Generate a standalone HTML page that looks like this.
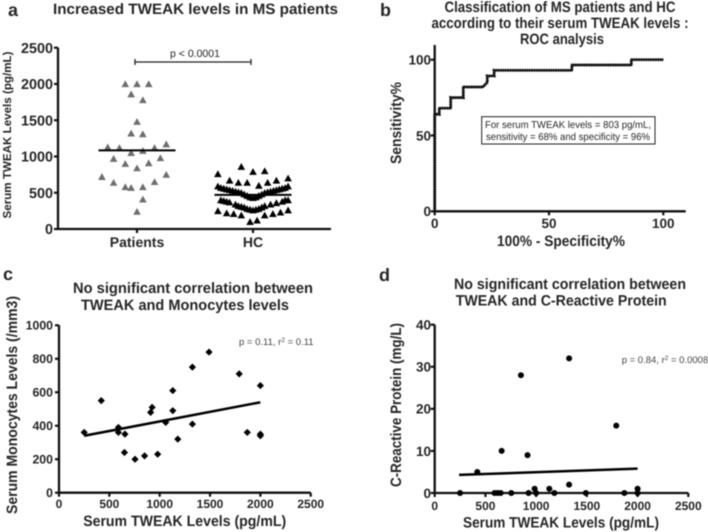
<!DOCTYPE html>
<html lang="en">
<head>
<meta charset="utf-8">
<title>TWEAK levels figure</title>
<style>
html,body{margin:0;padding:0;background:#fff;width:708px;height:532px;overflow:hidden}
svg{display:block;filter:blur(0.45px)}
text{font-family:"Liberation Sans",sans-serif;fill:#262626;text-rendering:geometricPrecision}
.b{font-weight:bold}
.t{font-weight:bold;font-size:15px}
.p{font-size:9.5px;fill:#444}
</style>
</head>
<body>
<svg id="fig" xmlns="http://www.w3.org/2000/svg" width="708" height="532" viewBox="0 0 708 532">
  <text class="b" x="8" y="16" font-size="18" fill="#000">a</text>
  <text class="t" x="53" y="14" textLength="285" lengthAdjust="spacingAndGlyphs">Increased TWEAK levels in MS patients</text>
  <text class="b" transform="translate(11,135) rotate(-90)" text-anchor="middle" font-size="11.5" textLength="167" lengthAdjust="spacingAndGlyphs">Serum TWEAK Levels (pg/mL)</text>
  <text x="195" y="57" text-anchor="middle" font-size="10.5" fill="#444">p &lt; 0.0001</text>
  <path d="M135 62H251M135 59V65M251 59V65" fill="none" stroke="#222" stroke-width="1.3"/>

  <text class="b" x="380" y="16" font-size="18">b</text>
  <text class="t" x="560" y="12" text-anchor="middle" textLength="231" lengthAdjust="spacingAndGlyphs">Classification of MS patients and HC</text>
  <text class="t" x="560" y="28" text-anchor="middle" textLength="257" lengthAdjust="spacingAndGlyphs">according to their serum TWEAK levels :</text>
  <text class="t" x="562" y="44" text-anchor="middle" textLength="84" lengthAdjust="spacingAndGlyphs">ROC analysis</text>
  <text class="t" x="561" y="246" text-anchor="middle" textLength="128" lengthAdjust="spacingAndGlyphs">100% - Specificity%</text>
  <text class="t" transform="translate(401,123) rotate(-90)" text-anchor="middle" textLength="82" lengthAdjust="spacingAndGlyphs">Sensitivity%</text>
  <rect x="481.7" y="116.7" width="173.3" height="27.3" fill="#fff" stroke="#222" stroke-width="1"/>
  <text x="485" y="128" font-size="10" textLength="166" lengthAdjust="spacingAndGlyphs" fill="#333">For serum TWEAK levels = 803 pg/mL,</text>
  <text x="486" y="140" font-size="10" textLength="164" lengthAdjust="spacingAndGlyphs" fill="#333">sensitivity = 68% and specificity = 96%</text>

  <text class="b" x="3" y="280" font-size="18">c</text>
  <text class="t" x="73" y="293" textLength="240" lengthAdjust="spacingAndGlyphs">No significant correlation between</text>
  <text class="t" x="81" y="310" textLength="208" lengthAdjust="spacingAndGlyphs">TWEAK and Monocytes levels</text>
  <text class="t" x="184.7" y="526" text-anchor="middle" textLength="203" lengthAdjust="spacingAndGlyphs">Serum TWEAK Levels (pg/mL)</text>
  <text class="t" transform="translate(17,405) rotate(-90)" text-anchor="middle" textLength="218" lengthAdjust="spacingAndGlyphs">Serum Monocytes Levels (/mm3)</text>
  <text class="p" x="239" y="345">p = 0.11, r<tspan dy="-3" font-size="6.5">2</tspan><tspan dy="3"> = 0.11</tspan></text>

  <text class="b" x="379" y="281" font-size="18">d</text>
  <text class="t" x="454" y="289" textLength="232" lengthAdjust="spacingAndGlyphs">No significant correlation between</text>
  <text class="t" x="455.7" y="305.5" textLength="211" lengthAdjust="spacingAndGlyphs">TWEAK and C-Reactive Protein</text>
  <text class="t" x="561" y="527.5" text-anchor="middle" textLength="196" lengthAdjust="spacingAndGlyphs">Serum TWEAK Levels (pg/mL)</text>
  <text class="t" transform="translate(401,405) rotate(-90)" text-anchor="middle" textLength="164" lengthAdjust="spacingAndGlyphs">C-Reactive Protein (mg/L)</text>
  <text class="p" x="621.7" y="363">p = 0.84, r<tspan dy="-3" font-size="6.5">2</tspan><tspan dy="3"> = 0.0008</tspan></text>
</svg>
<script>
// Panel a data
const swarmCategories = ['Patients', 'HC'];
const swarmTicks = [0, 500, 1000, 1500, 2000, 2500];
const patientSlots = [-2,0,2,-1,1,0,-1,1,-5,-3,3,5,-1,1,-4,4,-2,2,0,-6,5,-4,3,-2,-1,1,1,0];
const patientValues = [2000,2000,2000,1860,1780,1480,1320,1310,1130,1120,1120,1170,1050,1080,970,980,900,910,840,720,750,640,650,580,570,580,410,240];
const hcSlots = [-2,0,2,-6,6,-4,4,-2.5,-1,1,2.5,
  -6,-5.5,-5,-4.5,-4,-3.5,-3,-2.5,-2,-1.5,-1,-0.5,0,0.5,1,1.5,2,2.5,3,3.5,4,4.5,5,5.5,6,
  -5.5,-5,-4.5,-4,-3,-2.5,-2,-1.5,-1,-0.5,0,0.5,1,1.5,2,3,4,5,5.5,6,
  -6,-4.5,-3.3,-2,-0.5,0.7,2,3.4,4.7,6];
const hcValues = [860,790,800,760,700,670,670,640,640,600,640,
  590,570,560,550,540,530,520,510,500,480,460,440,430,440,460,480,500,510,520,530,540,550,560,570,590,
  400,390,380,370,340,320,310,300,280,270,260,270,280,300,320,340,360,380,400,400,
  250,220,210,190,100,120,190,210,230,260];
const swarmMeans = [1085, 470];
// Panel b data
const rocTicks = [0, 50, 100];
const rocX = [0,0,2,2,7,7,12.5,12.5,21,23,23,26,26,60,60,86,86,100];
const rocY = [0,64,64,68,68,75,75,82,82,85,89.3,89.3,93,93,96.5,96.5,100,100];
// Panel c data
const monoXTicks = [0, 500, 1000, 1500, 2000, 2500];
const monoYTicks = [0, 200, 400, 600, 800, 1000];
const monoTweak = [250,420,590,590,650,655,755,850,910,925,980,1060,1130,1130,1180,1325,1325,1490,1790,1870,2000,2000,2000];
const monoValues = [360,550,390,360,240,350,200,220,480,510,230,420,610,490,320,750,410,840,710,360,640,350,340];
const monoFitX = [250, 2000];
const monoFitY = [340, 540];
// Panel d data
const crpXTicks = [0, 500, 1000, 1500, 2000, 2500];
const crpYTicks = [0, 10, 20, 30, 40];
const crpTweak = [250,420,590,620,650,660,755,850,915,925,985,1000,1130,1180,1325,1325,1490,1790,1870,2000,2000];
const crpValues = [0,5,0,0,0,10,0,28,9,0,1,0,1,0,32,2,0,16,0,1,0];
const crpFitX = [240, 2000];
const crpFitY = [4.3, 5.8];

const svg = document.getElementById('fig');
const NS = 'http://www.w3.org/2000/svg';
function mk(tag, attrs, parent) {
  const el = document.createElementNS(NS, tag);
  for (const k in attrs) el.setAttribute(k, attrs[k]);
  (parent || svg).appendChild(el);
  return el;
}
function linear(d0, d1, r0, r1) {
  return v => r0 + (v - d0) * (r1 - r0) / (d1 - d0);
}
function group(name) {
  const g = mk('g', {});
  
  
  return g;
}
function axes(name, x0, y0, xEnd, yTop, sw) {
  const p = mk('path', {d: 'M' + x0 + ' ' + yTop + 'V' + y0 + 'H' + xEnd, fill: 'none', stroke: '#111', 'stroke-width': sw}, svg);
  
  
}
function xTicks(name, vals, labels, sx, y0, base, size) {
  const g = group(name);
  vals.forEach((v, i) => {
    const tick = mk('line', {x1: sx(v), x2: sx(v), y1: y0, y2: y0 + 4, stroke: '#111', 'stroke-width': 2.2}, g);
    
    
    const t = mk('text', {x: sx(v), y: base, 'text-anchor': 'middle', 'font-size': size, 'font-weight': 'bold'}, g);
    t.textContent = labels[i];
    
    
  });
}
function yTicks(name, vals, sy, x0, right, size) {
  const g = group(name);
  vals.forEach(v => {
    const tick = mk('line', {x1: x0 - 4, x2: x0, y1: sy(v), y2: sy(v), stroke: '#111', 'stroke-width': 2.2}, g);
    
    
    const t = mk('text', {x: right, y: sy(v) + size * 0.36, 'text-anchor': 'end', 'font-size': size, 'font-weight': 'bold'}, g);
    t.textContent = v;
    
    
  });
}

// Panel a
const ayScale = linear(0, 2500, 229, 47.7);
const acScale = linear(0, 1, 137, 253);
const slotUnit = 5.85 / 116;
axes('panel-a-axes', 58, 229, 331, 47.7, 2.3);
yTicks('panel-a-y-ticks', swarmTicks, ayScale, 58, 53, 14.4);
xTicks('panel-a-x-ticks', [0, 1], swarmCategories, acScale, 229, 247, 14);
function triangles(name, itemName, cat, slots, values, color) {
  const g = group(name);
  values.forEach((v, i) => {
    const cx = acScale(cat + slots[i] * slotUnit), cy = ayScale(v);
    const tri = mk('polygon', {points: (cx - 3.8) + ',' + (cy + 3.2) + ' ' + (cx + 3.8) + ',' + (cy + 3.2) + ' ' + cx + ',' + (cy - 3.6), fill: color}, g);
    
    
  });
}
triangles('patients-points', 'patient-point', 0, patientSlots, patientValues, '#6e6e6e');
triangles('hc-points', 'hc-point', 1, hcSlots, hcValues, '#000');
swarmMeans.forEach((m, i) => {
  const line = mk('line', {x1: acScale(i) - 38.5, x2: acScale(i) + 38.5, y1: ayScale(m), y2: ayScale(m), stroke: '#000', 'stroke-width': 2});
  
  
});

// Panel b
const bx = linear(0, 100, 434.7, 663.3);
const by = linear(0, 100, 211.3, 59.7);
axes('panel-b-axes', 434.7, 211.3, 685.7, 45, 2.3);
yTicks('panel-b-y-ticks', rocTicks, by, 434.7, 431, 13.5);
xTicks('panel-b-x-ticks', rocTicks, rocTicks, bx, 211.3, 228, 13.5);
let rocD = '';
rocX.forEach((x, i) => { rocD += (i ? 'L' : 'M') + bx(x) + ' ' + by(rocY[i]); });
const rocDots = mk('path', {d: rocD, fill: 'none', stroke: '#222', 'stroke-width': 3.2, 'stroke-dasharray': '1 1.4'});


const rocLine = mk('path', {d: rocD, fill: 'none', stroke: '#111', 'stroke-width': 2.2});



// Panel c
const cx = linear(0, 2500, 59, 310.7);
const cy = linear(0, 1000, 492.7, 325.3);
axes('panel-c-axes', 59, 492.7, 310.7, 325.3, 2.3);
yTicks('panel-c-y-ticks', monoYTicks, cy, 59, 53, 12.3);
xTicks('panel-c-x-ticks', monoXTicks, monoXTicks, cx, 492.7, 508, 12);
const monoGroup = group('monocyte-points');
monoTweak.forEach((x, i) => {
  const px = cx(x), py = cy(monoValues[i]);
  const d = mk('polygon', {points: (px - 3.6) + ',' + py + ' ' + px + ',' + (py - 3.6) + ' ' + (px + 3.6) + ',' + py + ' ' + px + ',' + (py + 3.6), fill: '#000'}, monoGroup);
  
  
});
const monoFit = mk('line', {x1: cx(monoFitX[0]), x2: cx(monoFitX[1]), y1: cy(monoFitY[0]), y2: cy(monoFitY[1]), stroke: '#000', 'stroke-width': 2.5});



// Panel d
const dx = linear(0, 2500, 434.7, 688.3);
const dy = linear(0, 40, 493, 324.7);
axes('panel-d-axes', 434.7, 493, 688.3, 324.7, 2.3);
yTicks('panel-d-y-ticks', crpYTicks, dy, 434.7, 431, 13.5);
xTicks('panel-d-x-ticks', crpXTicks, crpXTicks, dx, 493, 510, 12);
const crpGroup = group('crp-points');
crpTweak.forEach((x, i) => {
  const c = mk('circle', {cx: dx(x), cy: dy(crpValues[i]), r: 3, fill: '#000'}, crpGroup);
  
  
});
const crpFit = mk('line', {x1: dx(crpFitX[0]), x2: dx(crpFitX[1]), y1: dy(crpFitY[0]), y2: dy(crpFitY[1]), stroke: '#000', 'stroke-width': 2.5});


</script>
</body>
</html>
